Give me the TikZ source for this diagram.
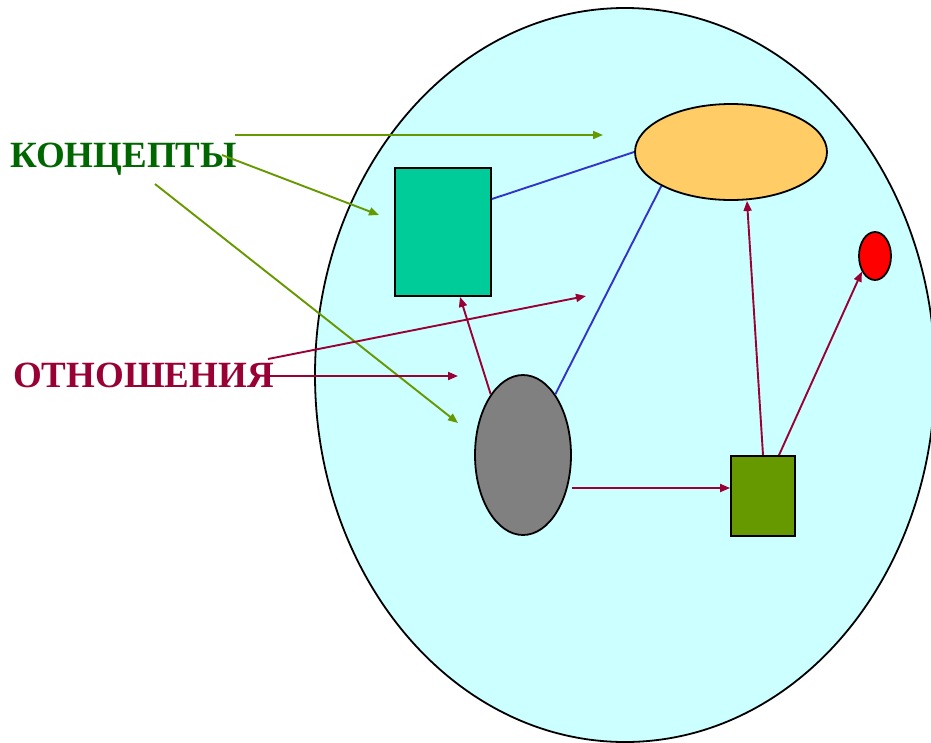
\documentclass[tikz,border=0pt]{standalone}
\usepackage{fontspec}
\setmainfont{Liberation Serif}
\usetikzlibrary{arrows.meta,shapes.geometric}

\definecolor{cellfill}{HTML}{CCFFFF}
\definecolor{conceptfill}{HTML}{FFCC66}
\definecolor{boxfill}{HTML}{00CC99}
\definecolor{grayfill}{HTML}{808080}
\definecolor{olivefill}{HTML}{669900}
\definecolor{redfill}{HTML}{FF0000}
\definecolor{conceptgreen}{HTML}{006600}
\definecolor{relred}{HTML}{990033}
\definecolor{linkblue}{HTML}{3333CC}

\tikzset{
  shapeline/.style={draw=black, line width=1.8pt},
  oval/.style={shapeline, ellipse, inner sep=0pt},
  box/.style={shapeline, rectangle, inner sep=0pt},
  title/.style={font=\bfseries\fontsize{37}{40}\selectfont, anchor=base west, inner sep=0pt},
  concept/.style={draw=olivefill, line width=1.9pt, -{Triangle[length=10pt,width=8pt]}},
  relation/.style={draw=relred, line width=1.9pt, -{Triangle[length=10pt,width=8pt]}},
  link/.style={draw=linkblue, line width=1.9pt},
}

\begin{document}
\begin{tikzpicture}[x=1pt, y=-1pt]
  \useasboundingbox (0,0) rectangle (931,742);

  % outer cell
  \node[oval, fill=cellfill, minimum width=620pt, minimum height=734pt] (cell) at (625,375) {};

  % elements inside the cell
  \node[oval, fill=conceptfill, minimum width=192pt, minimum height=96pt] (top) at (731,152) {};
  \node[box, fill=boxfill, minimum width=96pt, minimum height=128pt] (tbox) at (443,232) {};
  \node[oval, fill=grayfill, minimum width=96pt, minimum height=160pt] (gray) at (523,455) {};
  \node[box, fill=olivefill, minimum width=64pt, minimum height=80pt] (gbox) at (763,496) {};
  \node[oval, fill=redfill, minimum width=32pt, minimum height=48pt] (dot) at (875,256) {};

  % labels
  \node[title, text=conceptgreen] (conc) at (10,167) {КОНЦЕПТЫ};
  \node[title, text=relred] (rel) at (13,387) {ОТНОШЕНИЯ};

  % arrow ends
  \coordinate (c1s) at (235,135);  \coordinate (c1e) at (603,135);
  \coordinate (c2s) at (222,155);  \coordinate (c2e) at (379,215);
  \coordinate (c3s) at (155,184);  \coordinate (c3e) at (458,423);
  \coordinate (r1s) at (268,359);  \coordinate (r1e) at (586,296);
  \coordinate (r2s) at (270,376);  \coordinate (r2e) at (458,376);

  % pointers from the labels
  \draw[concept] (c1s) -- (c1e);
  \draw[concept] (c2s) -- (c2e);
  \draw[concept] (c3s) -- (c3e);
  \draw[relation] (r1s) -- (r1e);
  \draw[relation] (r2s) -- (r2e);

  % relations between the elements
  \draw[relation] (gray.118) -- (tbox.south -| 460,0);
  \draw[relation] (gray.east |- 0,488) -- (gbox.west |- 0,488);
  \draw[relation] (gbox.north) -- (top.south -| 747,0);
  \draw[relation] (gbox.north -| 779,0) -- (dot.230);

  % plain links
  \draw[link] (tbox.east |- 0,199) -- (top.west);
  \draw[link] (gray.62) -- (top.206);
\end{tikzpicture}
\end{document}
